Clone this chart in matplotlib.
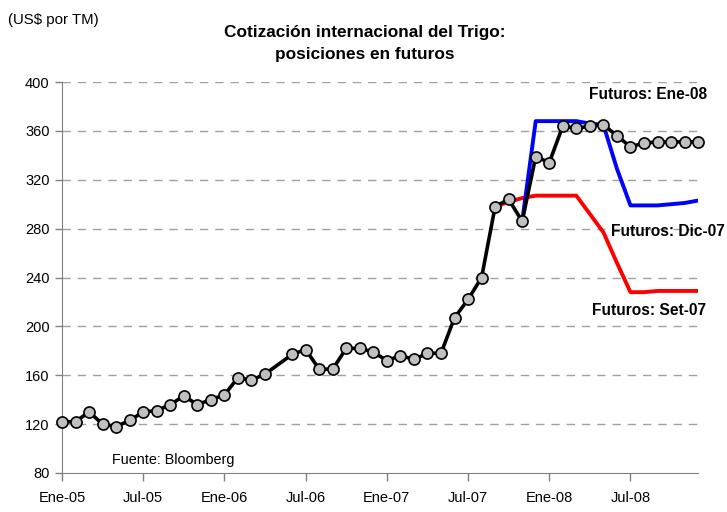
import matplotlib.pyplot as plt

plt.rcParams['font.family'] = ['Liberation Sans', 'DejaVu Sans']

# month index 0 = Ene-05 ... 47 = Dic-08 (May-06 missing)
spot_months = [0, 1, 2, 3, 4, 5, 6, 7, 8, 9, 10, 11, 12, 13, 14, 15,
               17, 18, 19, 20, 21, 22, 23, 24, 25, 26, 27, 28, 29, 30,
               31, 32, 33, 34, 35, 36, 37, 38, 39, 40, 41, 42, 43, 44,
               45, 46, 47]
spot = [122, 122, 130, 120, 118, 123, 130, 131, 136, 143, 136, 140, 144,
        158, 156, 161, 177, 181, 165, 165, 182, 182, 179, 172, 176, 173,
        178, 178, 207, 222, 240, 298, 304, 286, 339, 334, 364, 362, 364,
        365, 356, 347, 350, 351, 351, 351, 351]

dic07_months = [34, 35, 36, 37, 38, 39, 40, 41, 42, 43, 44, 45, 46, 47]
dic07 = [286, 368, 368, 368, 368, 366, 365, 329, 299, 299, 299, 300, 301, 303]

set07_months = [32, 33, 34, 35, 36, 37, 38, 39, 40, 41, 42, 43, 44, 45, 46, 47]
set07 = [298, 302, 305, 307, 307, 307, 307, 292, 277, 252, 228, 228, 229, 229, 229, 229]

tick_pos = [0, 6, 12, 18, 24, 30, 36, 42]
tick_labels = ['Ene-05', 'Jul-05', 'Ene-06', 'Jul-06', 'Ene-07', 'Jul-07', 'Ene-08', 'Jul-08']

fig = plt.figure(figsize=(7.27, 5.12), dpi=100)
ax = fig.add_axes([0.0853, 0.0762, 0.875, 0.7636])

ax.plot(set07_months, set07, color='#ff0000', lw=2.8, zorder=2)
ax.plot(dic07_months, dic07, color='#0000ff', lw=2.8, zorder=2)
ax.plot(spot_months, spot, color='black', lw=2.6, marker='o', ms=8,
        mfc='#c0c0c0', mec='black', mew=1.2, zorder=3, clip_on=False)

ax.set_xlim(0, 47)
ax.set_ylim(80, 400)
ax.set_yticks(range(80, 401, 40))
ax.set_xticks(tick_pos)
ax.set_xticklabels(tick_labels)
ax.tick_params(axis='both', labelsize=10.5, color='#808080', length=6, width=1)
ax.tick_params(axis='x', pad=7)
ax.tick_params(axis='y', length=5, pad=4)

for y in range(120, 401, 40):
    ax.axhline(y, color='#a0a0a0', lw=1, dashes=(6, 5), zorder=1)

for s in ['top', 'right']:
    ax.spines[s].set_visible(False)
ax.spines['left'].set_color('#808080')
ax.spines['bottom'].set_color('#808080')

ax.text(47.7, 389.5, 'Futuros: Ene-08', fontsize=11.2, fontweight='bold', va='center', ha='right')
ax.text(49.0, 278, 'Futuros: Dic-07', fontsize=11.2, fontweight='bold', va='center', ha='right')
ax.text(47.6, 213, 'Futuros: Set-07', fontsize=11.2, fontweight='bold', va='center', ha='right')
ax.text(3.7, 91, 'Fuente: Bloomberg', fontsize=10.4, va='center')

fig.text(0.011, 0.96, '(US$ por TM)', fontsize=10.8, va='center')
fig.text(0.502, 0.915, 'Cotización internacional del Trigo:\nposiciones en futuros',
         fontsize=12.4, fontweight='bold', ha='center', va='center', linespacing=1.62)

fig.savefig('out.png', dpi=100)
